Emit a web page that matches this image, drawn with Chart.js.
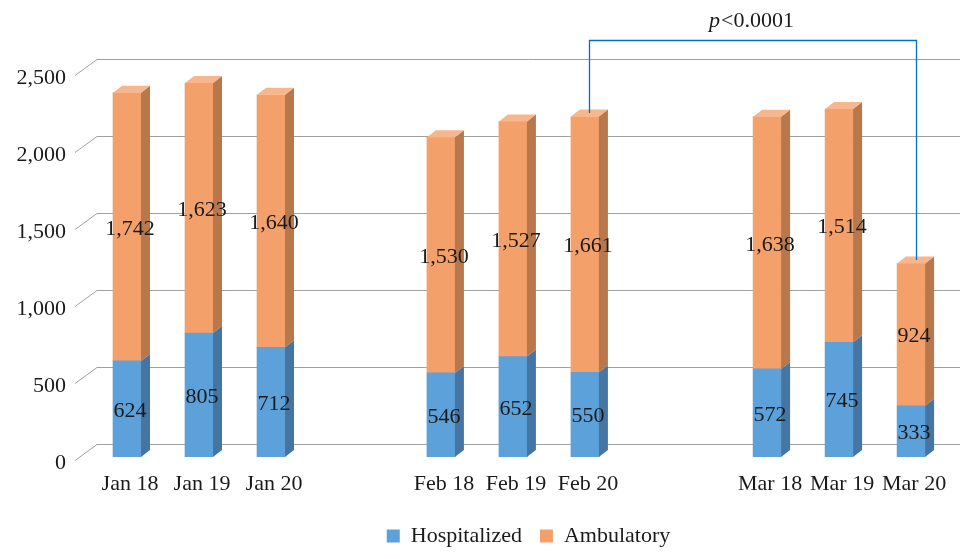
<!DOCTYPE html>
<html>
<head>
<meta charset="utf-8">
<script src="https://cdn.jsdelivr.net/npm/chart.js@4.4.1/dist/chart.umd.min.js"></script>
<style>
  html, body { margin: 0; padding: 0; background: #fff; }
  #wrap { width: 977px; height: 559px; }
</style>
</head>
<body>
<div id="wrap"><canvas id="chart" width="977" height="559"></canvas></div>
<script>
// ---- Data ----
const categories = ['Jan 18', 'Jan 19', 'Jan 20', 'Feb 18', 'Feb 19', 'Feb 20', 'Mar 18', 'Mar 19', 'Mar 20'];
const hospitalized = [624, 805, 712, 546, 652, 550, 572, 745, 333];
const ambulatory = [1742, 1623, 1640, 1530, 1527, 1661, 1638, 1514, 924];
const yTicks = [0, 500, 1000, 1500, 2000, 2500];
const seriesNames = ['Hospitalized', 'Ambulatory'];
const pText = ['p', '<0.0001'];
const bracketFrom = 'Feb 20';
const bracketTo = 'Mar 20';

// ---- Layout (3 bars per month, wider gap between months) ----
const GROUP_OFFSETS = [0, 4.36, 8.89];
const xPos = categories.map((c, i) => GROUP_OFFSETS[Math.floor(i / 3)] + (i % 3));

const FONT = '"Liberation Serif", "DejaVu Serif", serif';
const FONT_SIZE = 22;
const DX = 9, DY = 7;               // 3D depth of bars
const WALL_DX = 22, WALL_DY = 13.5; // depth of back wall
const COLORS = {
    hosp: { front: '#5DA1DA', side: '#4576A3', top: '#7FB5E3' },
    amb:  { front: '#F4A06A', side: '#B9774C', top: '#F7B68B' },
};

// ---- Plugins ----
const wallPlugin = {
    id: 'wall',
    beforeDatasetsDraw(chart) {
        const { ctx, scales: { y }, chartArea } = chart;
        ctx.save();
        ctx.strokeStyle = '#A0A0A0';
        ctx.lineWidth = 1;
        yTicks.forEach(v => {
            const fy = Math.round(y.getPixelForValue(v)) + 0.5;
            const by = Math.round(fy - WALL_DY) + 0.5;
            ctx.beginPath();
            ctx.moveTo(chartArea.left - WALL_DX, fy + 3);
            ctx.lineTo(chartArea.left, by);
            ctx.lineTo(chartArea.right, by);
            ctx.stroke();
        });
        ctx.restore();
    },
};

const barDepthPlugin = {
    id: 'barDepth',
    afterDatasetsDraw(chart) {
        const { ctx } = chart;
        const palettes = [COLORS.hosp, COLORS.amb];
        ctx.save();
        chart.data.datasets.forEach((ds, di) => {
            const meta = chart.getDatasetMeta(di);
            const pal = palettes[di];
            meta.data.forEach(bar => {
                const right = bar.x + bar.width / 2;
                const left = bar.x - bar.width / 2;
                const top = Math.min(bar.y, bar.base);
                const bottom = Math.max(bar.y, bar.base);
                // side face
                ctx.fillStyle = pal.side;
                ctx.beginPath();
                ctx.moveTo(right, top);
                ctx.lineTo(right + DX, top - DY);
                ctx.lineTo(right + DX, bottom - DY);
                ctx.lineTo(right, bottom);
                ctx.closePath();
                ctx.fill();
                // top face (only visible on the top segment)
                if (di === chart.data.datasets.length - 1) {
                    ctx.fillStyle = pal.top;
                    ctx.beginPath();
                    ctx.moveTo(left, top);
                    ctx.lineTo(left + DX, top - DY);
                    ctx.lineTo(right + DX, top - DY);
                    ctx.lineTo(right, top);
                    ctx.closePath();
                    ctx.fill();
                }
            });
        });
        // value labels
        ctx.fillStyle = '#1a1a1a';
        ctx.font = FONT_SIZE + 'px ' + FONT;
        ctx.textAlign = 'center';
        ctx.textBaseline = 'middle';
        chart.data.datasets.forEach((ds, di) => {
            chart.getDatasetMeta(di).data.forEach((bar, i) => {
                const v = ds.data[i].y;
                ctx.fillText(v.toLocaleString('en-US'), bar.x + 3, (bar.y + bar.base) / 2 + 2);
            });
        });
        ctx.restore();
    },
};

const bracketPlugin = {
    id: 'bracket',
    afterDraw(chart) {
        const { ctx, scales: { x, y }, chartArea } = chart;
        const i1 = categories.indexOf(bracketFrom);
        const i2 = categories.indexOf(bracketTo);
        const x1 = Math.round(x.getPixelForValue(xPos[i1]) + DX / 2) + 0.5;
        const x2 = Math.round(x.getPixelForValue(xPos[i2]) + DX / 2) + 0.5;
        const y1 = y.getPixelForValue(hospitalized[i1] + ambulatory[i1]) - DY / 2;
        const y2 = y.getPixelForValue(hospitalized[i2] + ambulatory[i2]) - DY / 2;
        const yTop = Math.round(chartArea.top - 32) + 0.5;
        ctx.save();
        ctx.strokeStyle = '#0070C0';
        ctx.lineWidth = 1.3;
        ctx.beginPath();
        ctx.moveTo(x1, y1);
        ctx.lineTo(x1, yTop);
        ctx.lineTo(x2, yTop);
        ctx.lineTo(x2, y2);
        ctx.stroke();
        // p<0.0001 with italic p
        const italic = 'italic ' + FONT_SIZE + 'px ' + FONT;
        const normal = FONT_SIZE + 'px ' + FONT;
        ctx.font = italic;
        const w1 = ctx.measureText(pText[0]).width;
        ctx.font = normal;
        const w2 = ctx.measureText(pText[1]).width;
        const cx = (x1 + x2) / 2 - 2;
        const ty = chartArea.top - 51;
        const sx = cx - (w1 + w2) / 2;
        ctx.fillStyle = '#1a1a1a';
        ctx.textBaseline = 'middle';
        ctx.textAlign = 'left';
        ctx.font = italic;
        ctx.fillText(pText[0], sx, ty);
        ctx.font = normal;
        ctx.fillText(pText[1], sx + w1 + 1, ty);
        ctx.restore();
    },
};

// ---- Chart ----
const toPoints = arr => arr.map((v, i) => ({ x: xPos[i], y: v }));

new Chart(document.getElementById('chart'), {
    type: 'bar',
    data: {
        datasets: [
            { label: seriesNames[0], data: toPoints(hospitalized), backgroundColor: COLORS.hosp.front, borderWidth: 0 },
            { label: seriesNames[1], data: toPoints(ambulatory), backgroundColor: COLORS.amb.front, borderWidth: 0 },
        ],
    },
    options: {
        responsive: false,
        animation: false,
        barThickness: 28,
        layout: { padding: { top: 72, right: 17, left: 0, bottom: 2 } },
        plugins: {
            tooltip: { enabled: false },
            legend: {
                position: 'bottom',
                fullSize: false,
                labels: {
                    boxWidth: 13,
                    boxHeight: 13,
                    padding: 18,
                    color: '#1a1a1a',
                    font: { family: FONT, size: FONT_SIZE },
                },
            },
        },
        scales: {
            x: {
                type: 'linear',
                stacked: true,
                offset: false,
                min: -30 / 72,
                max: -30 / 72 + 863 / 72,
                grid: { display: false, drawTicks: false },
                border: { display: false },
                afterBuildTicks: axis => { axis.ticks = xPos.map(v => ({ value: v })); },
                afterFit: axis => { axis.height = 50; },
                ticks: {
                    autoSkip: false,
                    maxRotation: 0,
                    padding: 14,
                    color: '#1a1a1a',
                    font: { family: FONT, size: FONT_SIZE },
                    labelOffset: 3,
                    callback: (v, i) => categories[i],
                },
            },
            y: {
                stacked: true,
                min: 0,
                max: 2500,
                afterBuildTicks: axis => { axis.ticks = yTicks.map(v => ({ value: v })); },
                afterFit: axis => { axis.width = 97; },
                grid: { display: false, drawTicks: false },
                border: { display: false },
                ticks: {
                    padding: 31,
                    labelOffset: 6,
                    color: '#1a1a1a',
                    font: { family: FONT, size: FONT_SIZE },
                    callback: v => v.toLocaleString('en-US'),
                },
            },
        },
    },
    plugins: [wallPlugin, barDepthPlugin, bracketPlugin],
});
</script>
</body>
</html>
